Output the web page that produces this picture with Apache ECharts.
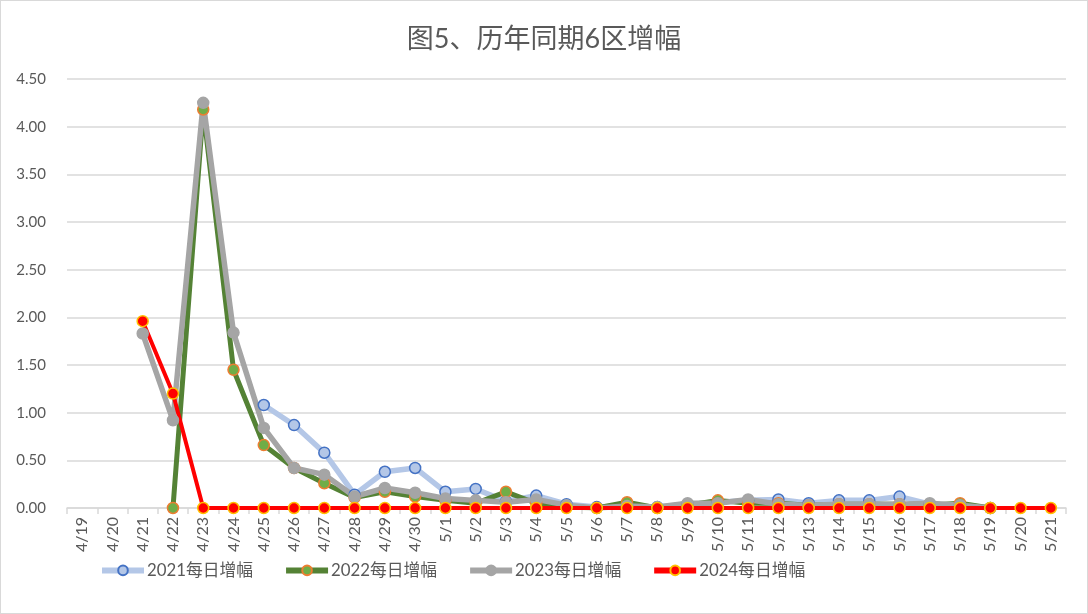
<!DOCTYPE html>
<html>
<head>
<meta charset="utf-8">
<style>
  html, body { margin: 0; padding: 0; background: #fff; }
  #main { width: 1086px; height: 612px; border: 1px solid #d9d9d9; }
</style>
<script src="https://cdn.jsdelivr.net/npm/echarts@6/dist/echarts.min.js"></script>
</head>
<body>
<div id="main"></div>
<script>
const dates = ['4/19','4/20','4/21','4/22','4/23','4/24','4/25','4/26','4/27','4/28','4/29','4/30',
  '5/1','5/2','5/3','5/4','5/5','5/6','5/7','5/8','5/9','5/10','5/11','5/12','5/13','5/14','5/15',
  '5/16','5/17','5/18','5/19','5/20','5/21'];

const y2021 = [null,null,null,null,null,null,1.08,0.87,0.58,0.14,0.38,0.42,
  0.17,0.20,0.07,0.13,0.04,0.01,0.02,0.01,0.04,0.06,0.08,0.09,0.05,0.08,0.08,
  0.12,0.04,0.03,0.00,null,null];
const y2022 = [null,null,null,0.00,4.18,1.45,0.66,0.42,0.26,0.11,0.17,0.12,
  0.08,0.05,0.17,0.05,0.01,0.00,0.06,0.00,0.03,0.08,0.05,0.05,0.03,0.04,0.04,
  0.04,0.03,0.05,0.00,null,null];
const y2023 = [null,null,1.83,0.92,4.25,1.84,0.84,0.42,0.35,0.12,0.21,0.16,
  0.10,0.08,0.06,0.09,0.03,0.00,0.02,0.01,0.05,0.05,0.09,0.04,0.03,0.04,0.04,
  0.04,0.05,0.03,0.00,null,null];
const y2024 = [null,null,1.96,1.20,0,0,0,0,0,0,0,0,
  0,0,0,0,0,0,0,0,0,0,0,0,0,0,0,
  0,0,0,0,0,0];

const seriesNames = ['2021每日增幅','2022每日增幅','2023每日增幅','2024每日增幅'];
const yTicks = { min: 0, max: 4.5, step: 0.5 };

const font = 'Lato, "Noto Sans CJK SC", sans-serif';
const txt = '#595959';

function line(name, data, lineColor, fill, border, width) {
  return {
    name: name,
    type: 'line',
    data: data,
    symbol: 'circle',
    symbolSize: 11,
    connectNulls: false,
    lineStyle: { color: lineColor, width: width },
    itemStyle: { color: fill, borderColor: border, borderWidth: 1.5 },
    emphasis: { disabled: true },
    z: 2
  };
}

var myChart = echarts.init(document.getElementById('main'));
var option = {
  animation: false,
  textStyle: { fontFamily: font },
  title: {
    text: '图5、历年同期6区增幅',
    left: 'center',
    top: 20,
    textStyle: { fontSize: 27, fontWeight: 'normal', color: txt, fontFamily: font }
  },
  legend: {
    top: 561,
    left: 98,
    padding: 0,
    itemWidth: 42,
    itemHeight: 12,
    itemGap: 30,
    lineStyle: { width: 6 },
    textStyle: { fontSize: 16.8, color: txt, fontFamily: font, padding: [0, 0, 0, -2] },
    data: seriesNames
  },
  grid: { left: 66, right: 21, top: 78, bottom: 105 },
  xAxis: {
    type: 'category',
    data: dates,
    boundaryGap: true,
    axisLine: { lineStyle: { color: '#d9d9d9', width: 1.5 } },
    axisTick: { show: true, length: 6, lineStyle: { color: '#d9d9d9', width: 1.5 } },
    axisLabel: { rotate: 90, interval: 0, fontSize: 16, color: txt, margin: 9 }
  },
  yAxis: {
    type: 'value',
    min: yTicks.min,
    max: yTicks.max,
    interval: yTicks.step,
    axisLine: { show: false },
    axisTick: { show: false },
    splitLine: { lineStyle: { color: '#d9d9d9', width: 1.5 } },
    axisLabel: { fontSize: 15, color: txt, margin: 21, formatter: v => v.toFixed(2) }
  },
  series: [
    line(seriesNames[0], y2021, '#b4c7e7', '#b4c7e7', '#4472c4', 5.5),
    line(seriesNames[1], y2022, '#548235', '#70ad47', '#ed7d31', 5),
    line(seriesNames[2], y2023, '#a5a5a5', '#a5a5a5', '#a5a5a5', 5.5),
    line(seriesNames[3], y2024, '#ff0000', '#ff0000', '#ffc000', 4)
  ]
};
myChart.setOption(option);
</script>
</body>
</html>
